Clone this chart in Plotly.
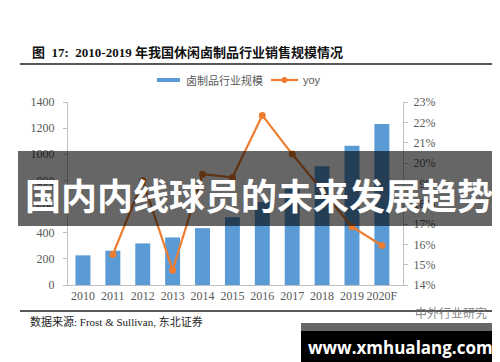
import plotly.graph_objects as go

years = ["2010", "2011", "2012", "2013", "2014", "2015", "2016", "2017", "2018", "2019", "2020F"]
scale_values = [227, 262, 318, 364, 435, 519, 635, 765, 908, 1066, 1231]
yoy_years = ["2011", "2012", "2013", "2014", "2015", "2016", "2017", "2018", "2019", "2020F"]
yoy_values = [15.5, 19.13, 14.73, 19.45, 19.29, 22.34, 20.44, 18.63, 16.87, 15.94]
left_ticks = [0, 200, 400, 600, 800, 1000, 1200, 1400]
right_ticks = [14, 15, 16, 17, 18, 19, 20, 21, 22, 23]
right_tick_labels = [f"{v}%" for v in right_ticks]

W, H = 500, 362
L, R, T, B = 60, 395, 94, 277  # plot area in pixels


def px(x):
    return (x - L) / (R - L)


def py(y):
    return (B - y) / (B - T)


SERIF = "Liberation Serif, 'Noto Sans CJK SC', serif"
BLUE = "#5B9BD5"
ORANGE = "#ED7D31"
GREY = "#595959"

fig = go.Figure()
fig.add_trace(go.Bar(x=years, y=scale_values, name="卤制品行业规模",
                     marker=dict(color=BLUE, line=dict(width=0)), yaxis="y"))
fig.add_trace(go.Scatter(x=yoy_years, y=yoy_values, name="yoy", mode="lines+markers",
                         line=dict(color=ORANGE, width=2.2),
                         marker=dict(color=ORANGE, size=7), yaxis="y2"))

fig.update_layout(
    width=W, height=H,
    margin=dict(l=L, r=W - R, t=T, b=H - B, pad=0),
    paper_bgcolor="white", plot_bgcolor="white",
    showlegend=False,
    bargap=0.5,
    font=dict(family=SERIF, color=GREY, size=12),
    xaxis=dict(type="category", showline=True, linecolor="#BFBFBF", linewidth=1,
               ticks="", showgrid=False, tickfont=dict(size=12, color=GREY, family=SERIF)),
    yaxis=dict(range=[0, 1400], tickvals=left_ticks, showline=True, linecolor="#BFBFBF",
               ticks="outside", ticklen=4, tickcolor="#BFBFBF", showgrid=False, zeroline=False,
               ticklabelstandoff=6,
               tickfont=dict(size=12, color=GREY, family=SERIF)),
    yaxis2=dict(range=[14, 23], tickvals=right_ticks, ticktext=right_tick_labels,
                overlaying="y", side="right", ticklabelstandoff=3,
                showline=True, linecolor="#BFBFBF", ticks="outside", ticklen=4, tickcolor="#BFBFBF",
                showgrid=False, zeroline=False, tickfont=dict(size=12, color=GREY, family=SERIF)),
)

shapes = []
annos = []
# title and rules
annos.append(dict(x=px(22), y=py(45), xref="paper", yref="paper", xanchor="left", yanchor="middle",
                  text="<b>图  17:  2010-2019 年我国休闲卤制品行业销售规模情况</b>", showarrow=False,
                  font=dict(family=SERIF, size=13, color="#111111")))
shapes.append(dict(type="line", xref="paper", yref="paper", x0=px(12), x1=px(490), y0=py(56), y1=py(56),
                   line=dict(color="#222222", width=1.5)))
shapes.append(dict(type="line", xref="paper", yref="paper", x0=px(12), x1=px(488), y0=py(303), y1=py(303),
                   line=dict(color="#222222", width=1.5)))
annos.append(dict(x=px(20), y=py(313), xref="paper", yref="paper", xanchor="left", yanchor="middle",
                  text="数据来源: Frost & Sullivan, 东北证券", showarrow=False,
                  font=dict(family=SERIF, size=11, color="#222222")))
# legend
shapes.append(dict(type="rect", xref="paper", yref="paper", x0=px(149), x1=px(172), y0=py(70), y1=py(74),
                   fillcolor=BLUE, line=dict(width=0)))
annos.append(dict(x=px(176), y=py(72), xref="paper", yref="paper", xanchor="left", yanchor="middle",
                  text="卤制品行业规模", showarrow=False, font=dict(family=SERIF, size=11, color=GREY)))
shapes.append(dict(type="line", xref="paper", yref="paper", x0=px(263), x1=px(290), y0=py(72), y1=py(72),
                   line=dict(color=ORANGE, width=2.2)))
shapes.append(dict(type="circle", xref="paper", yref="paper", x0=px(273.5), x1=px(279.5), y0=py(69), y1=py(75),
                   fillcolor=ORANGE, line=dict(width=0)))
annos.append(dict(x=px(293), y=py(72), xref="paper", yref="paper", xanchor="left", yanchor="middle",
                  text="yoy", showarrow=False, font=dict(family="Liberation Sans, sans-serif", size=11, color=GREY)))
# watermark
annos.append(dict(x=px(443), y=py(304), xref="paper", yref="paper", xanchor="center", yanchor="middle",
                  text="中外行业研究", showarrow=False,
                  font=dict(family="'Noto Sans CJK SC'", size=12, color="rgba(110,110,110,0.85)")))
# banner overlay
shapes.append(dict(type="rect", xref="paper", yref="paper", x0=px(10), x1=px(490), y0=py(218), y1=py(143),
                   fillcolor="rgba(0,0,0,0.6)", line=dict(width=0), layer="above"))
annos.append(dict(x=px(251), y=py(186), xref="paper", yref="paper", xanchor="center", yanchor="middle",
                  text="<b>国内内线球员的未来发展趋势</b>", showarrow=False,
                  font=dict(family="'Noto Sans CJK SC'", size=36, color="white")))
# bottom site box
shapes.append(dict(type="rect", xref="paper", yref="paper", x0=px(293), x1=px(491), y0=py(323), y1=py(315),
                   fillcolor="rgba(0,0,0,0.6)", line=dict(width=0), layer="above"))
shapes.append(dict(type="rect", xref="paper", yref="paper", x0=px(293), x1=px(491), y0=py(354), y1=py(323),
                   fillcolor="black", line=dict(width=0), layer="above"))
annos.append(dict(x=px(392), y=py(339), xref="paper", yref="paper", xanchor="center", yanchor="middle",
                  text="<b>www.xmhualang.com</b>", showarrow=False,
                  font=dict(family="'Open Sans', sans-serif", size=17, color="white")))

fig.update_layout(shapes=shapes, annotations=annos)
fig.write_html("out.html")
